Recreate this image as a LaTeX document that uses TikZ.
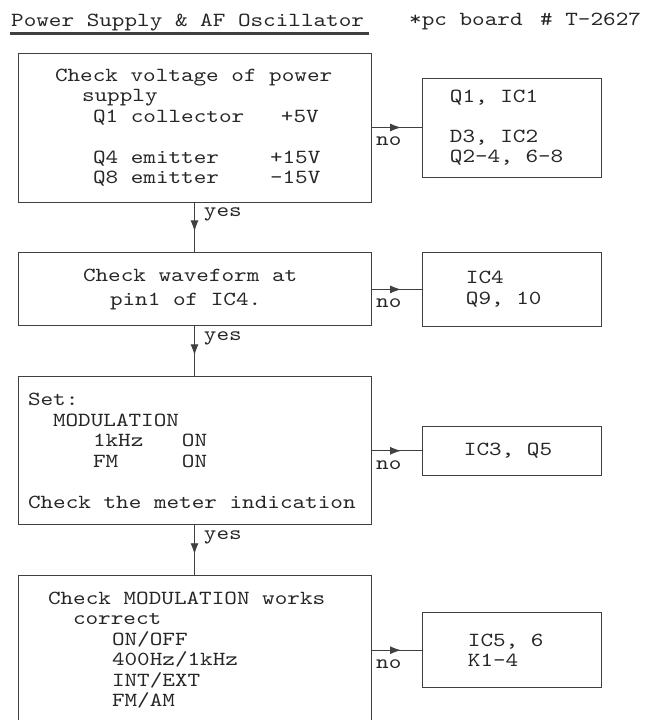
\documentclass[tikz,border=0pt]{standalone}
\usepackage{fontspec}
\newfontfamily\typer[FakeStretch=1.2]{lmmono10-regular.otf}
\usetikzlibrary{arrows.meta, positioning, decorations.markings}
\newcommand{\ind}[1]{\hspace*{#1pt}}
\newcommand{\typed}{\typer\fontsize{20}{20.5}\selectfont\frenchspacing}
\tikzset{
  checkbox/.style={
    rectangle,
    draw=black!75,
    line width=0.9pt,
    align=left,
    text width=333pt,
    inner xsep=10pt,
    inner ysep=0pt,
    text=black!85,
    font=\typed,
    execute at begin node={\spaceskip=12.6pt\relax}
  },
  partbox/.style={
    rectangle,
    draw=black!75,
    line width=0.9pt,
    align=left,
    text width=159pt,
    inner xsep=10pt,
    inner ysep=0pt,
    text=black!85,
    font=\typed,
    execute at begin node={\spaceskip=12.6pt\relax}
  },
  tag/.style={text=black!85, inner sep=1pt, font=\typed},
  flow/.style={draw=black!75, line width=0.9pt, postaction={decorate},
    decoration={markings, mark=at position 0.58 with {\arrow{Latex[length=11pt,width=8pt]}}}}
}
\begin{document}
\begin{tikzpicture}[x=1pt, y=-1pt, node distance=50pt and 51pt]
  \useasboundingbox (0,0) rectangle (656,720);
  \clip (0,0) rectangle (656,720);

  % heading
  \node[tag, anchor=base west] (title) at (10,26) {Power Supply \& AF Oscillator};
  \node[tag, anchor=base west] (board) at (408,25) {*pc board \ind{5}\# T-2627};
  \draw[line width=3pt, black!75] ([yshift=-7pt]title.base west) -- ([xshift=4pt, yshift=-7pt]title.base east);

  % checks
  \node[checkbox, minimum height=149pt] (volt) at (194.5,127.5)
    {\ind{27}Check voltage of power\\
     \ind{54}supply\\
     \ind{65}\makebox[188pt][l]{Q1 collector}+5V\\[20.5pt]
     \ind{65}\makebox[177pt][l]{Q4 emitter}+15V\\
     \ind{65}\makebox[177pt][l]{Q8 emitter}-15V};
  \node[checkbox, minimum height=73pt, below=of volt] (wave)
    {\ind{55}Check waveform at\\[3pt]
     \ind{82}pin1 of IC4.};
  \node[checkbox, minimum height=148pt, below=of wave] (meter)
    {Set:\\
     \ind{25}MODULATION\\
     \ind{65}\makebox[89pt][l]{1kHz}ON\\
     \ind{65}\makebox[89pt][l]{FM}ON\\[20.5pt]
     Check the meter indication};
  \node[checkbox, minimum height=149pt, below=of meter] (modul)
    {\ind{20}Check MODULATION works\\
     \ind{45}correct\\
     \ind{84}ON/OFF\\
     \ind{84}400Hz/1kHz\\
     \ind{84}INT/EXT\\
     \ind{84}FM/AM};

  % parts to replace
  \node[partbox, minimum height=99pt, right=of volt] (voltparts)
    {\ind{17}Q1, IC1\\[19.5pt]
     \ind{17}D3, IC2\\
     \ind{17}Q2-4, 6-8};
  \node[partbox, minimum height=74pt, right=of wave] (waveparts)
    {\ind{33}IC4\\
     \ind{33}Q9, 10};
  \node[partbox, minimum height=49pt, right=of meter] (meterparts)
    {\ind{31}IC3, Q5};
  \node[partbox, minimum height=75pt, right=of modul] (modulparts)
    {\ind{35}IC5, 6\\
     \ind{35}K1-4};

  \draw[flow] (volt) -- node[tag, pos=0.24, right=8pt] (yes1) {yes} (wave);
  \draw[flow] (wave) -- node[tag, pos=0.24, right=8pt] (yes2) {yes} (meter);
  \draw[flow] (meter) -- node[tag, pos=0.24, right=8pt] (yes3) {yes} (modul);

  \draw[flow] (volt.east) -- node[tag, pos=0.34, below=8pt] (no1) {no} (volt.east -| voltparts.west);
  \draw[flow] (wave.east) -- node[tag, pos=0.34, below=8pt] (no2) {no} (wave.east -| waveparts.west);
  \draw[flow] (meter.east) -- node[tag, pos=0.34, below=8pt] (no3) {no} (meter.east -| meterparts.west);
  \draw[flow] (modul.east) -- node[tag, pos=0.34, below=8pt] (no4) {no} (modul.east -| modulparts.west);
\end{tikzpicture}
\end{document}
